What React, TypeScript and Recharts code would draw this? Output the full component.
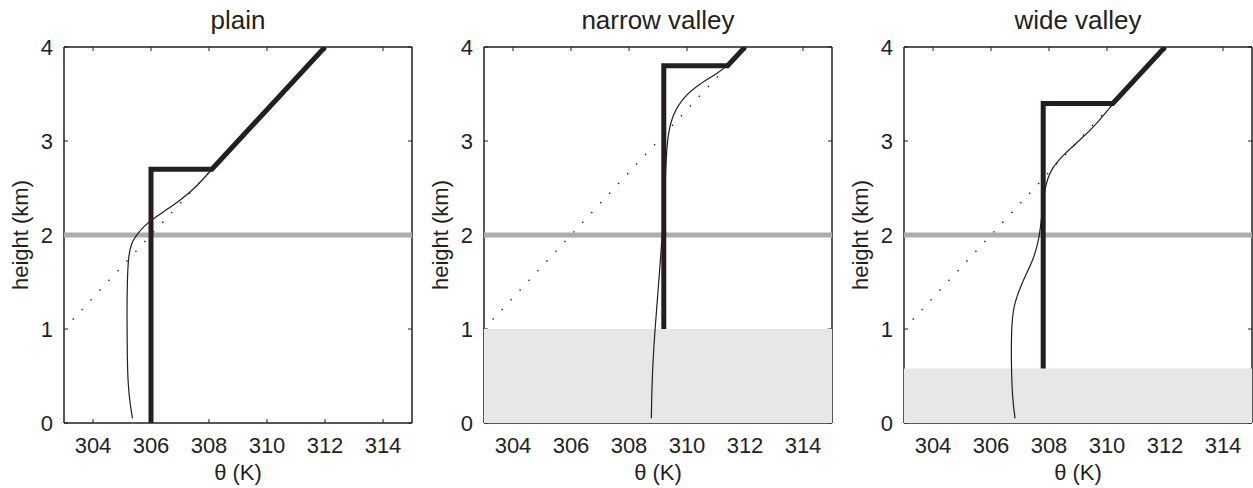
import React from 'react'
import { LineChart, Line, XAxis, YAxis, ReferenceArea, ReferenceLine } from 'recharts'

type Pt = { theta: number; z: number }

const thetaTicks = [304, 306, 308, 310, 312, 314]
const heightTicks = [0, 1, 2, 3, 4]
const thetaDomain = [303, 315]
const heightDomain = [0, 4]
const inversionLevel = 2

// background stratification (dotted)
const background: Pt[] = [
  { theta: 303.3, z: 1.1 },
  { theta: 312, z: 4 },
]

// plain
const plainMixed: Pt[] = [
  { theta: 306, z: 0 },
  { theta: 306, z: 2.7 },
  { theta: 308.1, z: 2.7 },
  { theta: 312, z: 4 },
]
const plainProfile: Pt[] = [
  { theta: 305.36, z: 0.05 },
  { theta: 305.28, z: 0.2 },
  { theta: 305.21, z: 0.4 },
  { theta: 305.18, z: 0.7 },
  { theta: 305.17, z: 1.1 },
  { theta: 305.18, z: 1.5 },
  { theta: 305.22, z: 1.78 },
  { theta: 305.33, z: 1.92 },
  { theta: 305.5, z: 2.0 },
  { theta: 305.75, z: 2.09 },
  { theta: 306.05, z: 2.17 },
  { theta: 306.55, z: 2.27 },
  { theta: 307.0, z: 2.37 },
  { theta: 307.5, z: 2.49 },
  { theta: 308.1, z: 2.7 },
  { theta: 312, z: 4 },
]

// narrow valley
const narrowGround = 1
const narrowMixed: Pt[] = [
  { theta: 309.2, z: 1 },
  { theta: 309.2, z: 3.8 },
  { theta: 311.4, z: 3.8 },
  { theta: 312, z: 4 },
]
const narrowProfile: Pt[] = [
  { theta: 308.77, z: 0.05 },
  { theta: 308.79, z: 0.4 },
  { theta: 308.85, z: 0.8 },
  { theta: 308.95, z: 1.2 },
  { theta: 309.05, z: 1.6 },
  { theta: 309.15, z: 2.0 },
  { theta: 309.22, z: 2.4 },
  { theta: 309.28, z: 2.8 },
  { theta: 309.33, z: 3.05 },
  { theta: 309.5, z: 3.28 },
  { theta: 309.88, z: 3.47 },
  { theta: 310.45, z: 3.61 },
  { theta: 311.0, z: 3.71 },
  { theta: 311.4, z: 3.8 },
  { theta: 312, z: 4 },
]

// wide valley
const wideGround = 0.58
const wideMixed: Pt[] = [
  { theta: 307.8, z: 0.58 },
  { theta: 307.8, z: 3.4 },
  { theta: 310.2, z: 3.4 },
  { theta: 312, z: 4 },
]
const wideProfile: Pt[] = [
  { theta: 306.83, z: 0.05 },
  { theta: 306.74, z: 0.25 },
  { theta: 306.7, z: 0.6 },
  { theta: 306.7, z: 1.0 },
  { theta: 306.78, z: 1.25 },
  { theta: 306.98, z: 1.42 },
  { theta: 307.2, z: 1.58 },
  { theta: 307.45, z: 1.73 },
  { theta: 307.66, z: 1.95 },
  { theta: 307.75, z: 2.2 },
  { theta: 307.85, z: 2.5 },
  { theta: 308.05, z: 2.7 },
  { theta: 308.55, z: 2.87 },
  { theta: 309.07, z: 3.01 },
  { theta: 309.7, z: 3.2 },
  { theta: 310.2, z: 3.4 },
  { theta: 312, z: 4 },
]

const panels = [
  { title: 'plain', ground: 0, mixed: plainMixed, profile: plainProfile },
  { title: 'narrow valley', ground: narrowGround, mixed: narrowMixed, profile: narrowProfile },
  { title: 'wide valley', ground: wideGround, mixed: wideMixed, profile: wideProfile },
]

const FONT = '"Liberation Sans", Arial, Helvetica, sans-serif'
const INK = '#231f20'
const textStyle = { fontSize: 22, fontFamily: FONT, fill: INK }
const tickStyle = { fill: INK, fontSize: 22, fontFamily: FONT, style: textStyle }

function Panel({ title, ground, mixed, profile }: (typeof panels)[number]) {
  return (
    <div style={{ position: 'relative', width: 420, height: 488 }}>
      <div
        style={{
          position: 'absolute',
          left: 64,
          width: 348,
          top: 7,
          textAlign: 'center',
          fontFamily: FONT,
          fontSize: 26,
          lineHeight: '26px',
          color: INK,
        }}
      >
        {title}
      </div>
      <LineChart width={420} height={488} margin={{ top: 46, right: 7, bottom: 3, left: 0 }}>
        <XAxis
          xAxisId="b"
          dataKey="theta"
          type="number"
          domain={thetaDomain}
          ticks={thetaTicks}
          allowDataOverflow
          height={62}
          tickSize={-4}
          tickMargin={18}
          fontSize={22}
          tick={tickStyle}
          axisLine={{ stroke: INK, strokeWidth: 1.5 }}
          tickLine={{ stroke: INK }}
          label={{ value: 'θ (K)', position: 'insideBottom', offset: 5, style: textStyle }}
        />
        <XAxis
          xAxisId="t"
          orientation="top"
          dataKey="theta"
          type="number"
          domain={thetaDomain}
          ticks={thetaTicks}
          allowDataOverflow
          height={1}
          tickSize={-4}
          tickFormatter={() => ''}
          axisLine={{ stroke: INK, strokeWidth: 1.5 }}
          tickLine={{ stroke: INK }}
        />
        <YAxis
          yAxisId="l"
          type="number"
          domain={heightDomain}
          ticks={heightTicks}
          allowDataOverflow
          width={64}
          tickSize={-4}
          tickMargin={15}
          fontSize={22}
          tick={tickStyle}
          axisLine={{ stroke: INK, strokeWidth: 1.5 }}
          tickLine={{ stroke: INK }}
          label={{
            value: 'height (km)',
            angle: -90,
            position: 'insideLeft',
            offset: 20,
            style: { ...textStyle, textAnchor: 'middle' },
          }}
        />
        <YAxis
          yAxisId="r"
          orientation="right"
          type="number"
          domain={heightDomain}
          ticks={heightTicks}
          allowDataOverflow
          width={1}
          tickSize={-4}
          tickFormatter={() => ''}
          axisLine={{ stroke: INK, strokeWidth: 1.5 }}
          tickLine={{ stroke: INK }}
        />
        {ground > 0 && (
          <ReferenceArea
            xAxisId="b"
            yAxisId="l"
            x1={thetaDomain[0]}
            x2={thetaDomain[1]}
            y1={0}
            y2={ground}
            fill="#e6e7e7"
            fillOpacity={1}
            stroke="none"
            zIndex={550}
          />
        )}
        <Line
          xAxisId="b"
          yAxisId="l"
          data={background}
          dataKey="z"
          type="linear"
          stroke={INK}
          strokeWidth={1.4}
          strokeDasharray="1.4 11.8"
          dot={false}
          activeDot={false}
          isAnimationActive={false}
          zIndex={560}
        />
        <ReferenceLine
          xAxisId="b"
          yAxisId="l"
          y={inversionLevel}
          stroke="#acadb0"
          strokeWidth={5}
          zIndex={570}
        />
        <Line
          xAxisId="b"
          yAxisId="l"
          data={profile}
          dataKey="z"
          type="basis"
          stroke={INK}
          strokeWidth={1.2}
          dot={false}
          activeDot={false}
          isAnimationActive={false}
          zIndex={580}
        />
        <Line
          xAxisId="b"
          yAxisId="l"
          data={mixed}
          dataKey="z"
          type="linear"
          stroke={INK}
          strokeWidth={5}
          dot={false}
          activeDot={false}
          isAnimationActive={false}
          zIndex={590}
        />
      </LineChart>
    </div>
  )
}

export default function App() {
  return (
    <div
      style={{
        position: 'absolute',
        left: 0,
        top: 0,
        width: 1253,
        height: 488,
        overflow: 'hidden',
        display: 'flex',
        background: '#fff',
      }}
    >
      {panels.map((p) => (
        <div key={p.title} style={{ flex: '0 0 420px' }}>
          <Panel {...p} />
        </div>
      ))}
    </div>
  )
}
